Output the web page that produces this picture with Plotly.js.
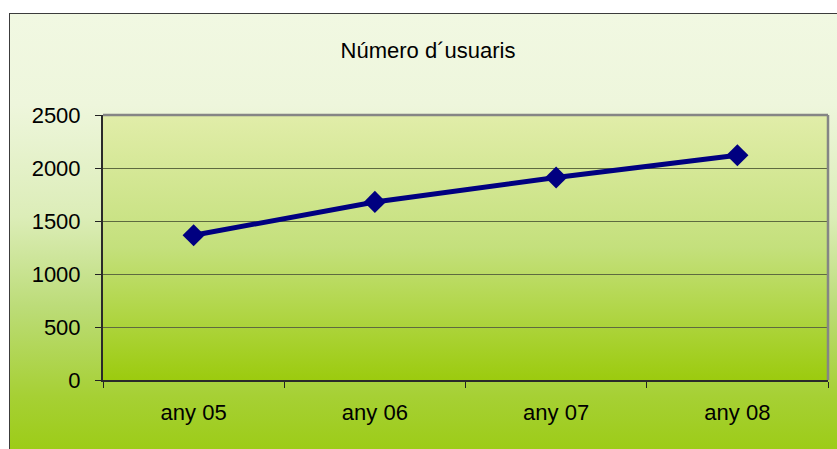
<!DOCTYPE html>
<html>
<head>
<meta charset="utf-8">
<script src="https://cdn.plot.ly/plotly-3.0.1.min.js"></script>
<style>
html,body{margin:0;padding:0;background:#ffffff;overflow:hidden;}
#wrap{position:relative;width:837px;height:449px;}
#bg{position:absolute;left:9px;top:13px;width:840px;height:450px;border:1px solid #3c3c3c;
background:linear-gradient(to bottom,#f1f8e2 0%,#eef6dc 20%,#dcedb8 45%,#bcdc78 65%,#a6d034 85%,#9acb10 100%);}
#chart{position:absolute;left:0;top:0;width:837px;height:449px;}
</style>
</head>
<body>
<div id="wrap"><div id="bg"></div><div id="chart"></div></div>
<script>
const categories = ["any 05", "any 06", "any 07", "any 08"];
const usuaris = [1365, 1680, 1910, 2120];
const yTicks = [0, 500, 1000, 1500, 2000, 2500];
const chartTitle = "Número d´usuaris";

const gradSvg = '<svg xmlns="http://www.w3.org/2000/svg" width="100" height="100" preserveAspectRatio="none">' +
  '<defs><linearGradient id="g" x1="0" y1="0" x2="0" y2="1">' +
  '<stop offset="0" stop-color="#e1eda9"/><stop offset="0.5" stop-color="#c4e07c"/>' +
  '<stop offset="1" stop-color="#9ccb0e"/></linearGradient></defs>' +
  '<rect width="100" height="100" fill="url(#g)"/></svg>';
const gradUrl = 'data:image/svg+xml;charset=utf-8,' + encodeURIComponent(gradSvg);

const font = {family: '"Liberation Sans", Arial, sans-serif', color: '#000000', size: 22};

const data = [{
  type: 'scatter', mode: 'lines+markers',
  x: categories, y: usuaris,
  line: {color: '#000080', width: 5},
  marker: {symbol: 'diamond', size: 17, color: '#000080'},
  hoverinfo: 'x+y'
}];

const layout = {
  width: 837, height: 449,
  margin: {l: 103, r: 9, t: 115, b: 69, pad: 0},
  paper_bgcolor: 'rgba(0,0,0,0)',
  plot_bgcolor: 'rgba(0,0,0,0)',
  showlegend: false,
  font: font,
  title: {text: chartTitle, font: {family: font.family, size: 22, color: '#000'},
          x: 428/837, xanchor: 'center', y: 1 - 50/449, yanchor: 'middle', xref: 'container', yref: 'container'},
  xaxis: {
    type: 'category', range: [-0.5, 3.5],
    tickson: 'boundaries', ticks: 'outside', ticklen: 6, tickwidth: 1, tickcolor: '#222',
    showline: true, linecolor: '#2a2a2a', linewidth: 2,
    showgrid: false, zeroline: false, fixedrange: true,
    tickfont: font, ticklabelstandoff: 12
  },
  yaxis: {
    range: [0, 2500], tickvals: yTicks, ticktext: yTicks.map(String),
    ticks: 'outside', ticklen: 6, tickwidth: 1, tickcolor: '#222',
    showline: true, linecolor: '#2a2a2a', linewidth: 2,
    showgrid: true, gridcolor: '#5e6a40', gridwidth: 1, zeroline: false, fixedrange: true,
    tickfont: font, ticklabelstandoff: 10
  },
  images: [{source: gradUrl, xref: 'paper', yref: 'paper', x: 0, y: 1, sizex: 1, sizey: 1,
            sizing: 'stretch', xanchor: 'left', yanchor: 'top', layer: 'below'}],
  shapes: [
    {type: 'line', xref: 'paper', yref: 'paper', x0: 0, x1: 1, y0: 1, y1: 1, line: {color: '#858585', width: 2.5}},
    {type: 'line', xref: 'paper', yref: 'paper', x0: 1, x1: 1, y0: 0, y1: 1, line: {color: '#858585', width: 2.5}}
  ]
};

Plotly.newPlot('chart', data, layout, {displayModeBar: false, staticPlot: true});
</script>
</body>
</html>
